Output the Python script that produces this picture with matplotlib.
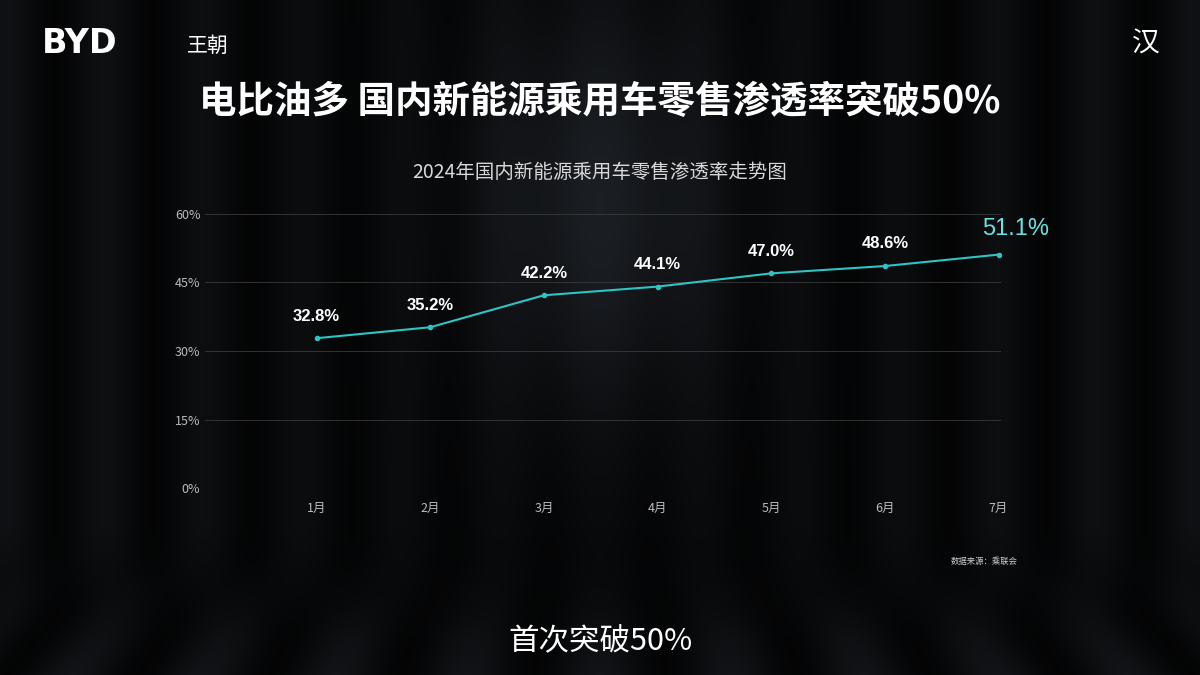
import numpy as np
import matplotlib
matplotlib.use("Agg")
import matplotlib.pyplot as plt

plt.rcParams['font.family'] = ['Noto Sans CJK SC', 'DejaVu Sans']

months = ["1月", "2月", "3月", "4月", "5月", "6月", "7月"]
rates = [32.8, 35.2, 42.2, 44.1, 47.0, 48.6, 51.1]
yticks = [0, 15, 30, 45, 60]

fig = plt.figure(figsize=(12, 6.75), dpi=100)

# background: dark with vertical stripes and a central glow
bg = fig.add_axes([0, 0, 1, 1])
xs = np.linspace(-1, 1, 600)
ys = np.linspace(0, 1, 340)
X, Y = np.meshgrid(xs, ys)
stripes = 0.5 + 0.5 * np.cos(xs * 38)
base = 0.02 + 0.035 * stripes * np.abs(xs) + 0.015 * stripes
glow = 0.09 * np.exp(-(X / 0.2) ** 2) * np.exp(-((Y - 0.3) / 0.3) ** 2)
img = base[None, :] + glow
floor_w = np.clip((Y - 0.78) * 6, 0, 1)
rays = 0.5 + 0.5 * np.cos((X / (Y + 0.05)) * 30)
img = img * (1 - floor_w) + floor_w * (0.02 + 0.09 * rays * (Y - 0.78) * 3)
rgb = np.stack([img * 0.85, img * 0.95, img * 1.1], axis=-1).clip(0, 1)
bg.imshow(rgb, aspect="auto", extent=[0, 1, 0, 1])
bg.axis("off")

fig.text(0.035, 0.935, "BYD", color="white", fontsize=24, fontweight="bold", va="center", family="DejaVu Sans")
fig.text(0.156, 0.932, "王朝", color="white", fontsize=15, va="center")
fig.text(0.955, 0.935, "汉", color="white", fontsize=20, va="center", ha="center")
fig.text(0.5, 0.85, "电比油多 国内新能源乘用车零售渗透率突破50%", color="white",
         fontsize=27, fontweight="bold", ha="center", va="center")
fig.text(0.5, 0.745, "2024年国内新能源乘用车零售渗透率走势图", color="#d8d8d8",
         fontsize=14, ha="center", va="center")
fig.text(0.5, 0.05, "首次突破50%", color="white", fontsize=22, ha="center", va="center")
fig.text(0.82, 0.168, "数据来源：乘联会", color="#cccccc", fontsize=6, ha="center", va="center")

ax = fig.add_axes([0.171, 0.277, 0.663, 0.406])
ax.patch.set_alpha(0)
x = np.arange(1, len(months) + 1)
ax.plot(x, rates, color="#2ec4c4", lw=1.5, marker="o", ms=3, zorder=3)
for i, (xi, v) in enumerate(zip(x, rates)):
    if i == len(rates) - 1:
        ax.text(xi + 0.15, v + 3.2, f"{v:.1f}%", color="#6fe0e0", fontsize=17,
                ha="center", va="bottom", family="Liberation Sans")
    else:
        ax.text(xi, v + 3.2, f"{v:.1f}%", color="white", fontsize=12,
                ha="center", va="bottom", fontweight="bold", family="Liberation Sans")
ax.set_xlim(0.02, 7.02)
ax.set_ylim(0, 60)
ax.set_yticks(yticks)
ax.set_yticklabels([f"{t}%" for t in yticks])
ax.set_xticks(x)
ax.set_xticklabels(months)
ax.grid(axis="y", color="#3a3a3a", lw=0.6)
ax.tick_params(colors="#bbbbbb", labelsize=9, length=0)
ax.tick_params(axis="x", pad=10)
for s in ax.spines.values():
    s.set_visible(False)

fig.savefig("out.png", dpi=100)
